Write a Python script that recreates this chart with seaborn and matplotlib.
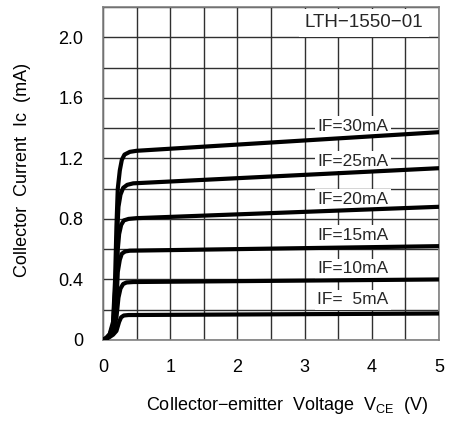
import numpy as np
import pandas as pd
import matplotlib
matplotlib.use("Agg")
import matplotlib.pyplot as plt
import seaborn as sns
from matplotlib.ticker import MultipleLocator, FixedLocator

# ---- data ----
v_30 = [0, 0.05, 0.10, 0.15, 0.18, 0.20, 0.22, 0.25, 0.28, 0.32, 0.40, 0.50, 5.0]
i_30 = [0, 0.015, 0.04, 0.12, 0.40, 0.75, 1.00, 1.12, 1.19, 1.225, 1.243, 1.25, 1.373]

v_25 = [0, 0.05, 0.10, 0.15, 0.19, 0.21, 0.23, 0.26, 0.30, 0.36, 0.45, 5.0]
i_25 = [0, 0.013, 0.035, 0.10, 0.40, 0.70, 0.88, 0.96, 1.005, 1.025, 1.035, 1.135]

v_20 = [0, 0.05, 0.10, 0.15, 0.20, 0.22, 0.24, 0.27, 0.31, 0.38, 0.50, 5.0]
i_20 = [0, 0.012, 0.03, 0.08, 0.35, 0.60, 0.70, 0.76, 0.79, 0.80, 0.805, 0.88]

v_15 = [0, 0.05, 0.10, 0.15, 0.20, 0.22, 0.25, 0.28, 0.33, 0.40, 5.0]
i_15 = [0, 0.01, 0.028, 0.06, 0.25, 0.45, 0.53, 0.57, 0.585, 0.59, 0.62]

v_10 = [0, 0.05, 0.10, 0.15, 0.20, 0.23, 0.26, 0.30, 0.35, 0.45, 5.0]
i_10 = [0, 0.01, 0.025, 0.05, 0.15, 0.28, 0.34, 0.37, 0.38, 0.383, 0.40]

v_5 = [0, 0.05, 0.10, 0.15, 0.20, 0.24, 0.27, 0.31, 0.38, 5.0]
i_5 = [0, 0.008, 0.02, 0.035, 0.06, 0.12, 0.15, 0.162, 0.165, 0.175]

curve_labels = ["IF=30mA", "IF=25mA", "IF=20mA", "IF=15mA", "IF=10mA", "IF=  5mA"]
label_x = [3.72, 3.72, 3.72, 3.72, 3.72, 3.72]
label_y = [1.41, 1.18, 0.93, 0.69, 0.47, 0.265]

x_ticks = [0, 1, 2, 3, 4, 5]
y_ticks = [0, 0.4, 0.8, 1.2, 1.6, 2.0]
y_tick_labels = ["0", "0.4", "0.8", "1.2", "1.6", "2.0"]
model_name = "LTH\u22121550\u221201"

# ---- build table ----
frames = []
for lab, v, i in zip(curve_labels,
                     [v_30, v_25, v_20, v_15, v_10, v_5],
                     [i_30, i_25, i_20, i_15, i_10, i_5]):
    frames.append(pd.DataFrame({"Vce": v, "Ic": i, "IF": lab}))
df = pd.concat(frames, ignore_index=True)

sns.set_theme(style="white")
plt.rcParams["font.family"] = ["Liberation Sans", "DejaVu Sans"]
plt.rcParams["mathtext.fontset"] = "custom"
plt.rcParams["mathtext.rm"] = "Liberation Sans"

fig = plt.figure(figsize=(4.51, 4.21), dpi=100)
ax = fig.add_axes([103 / 451, 1 - 340 / 421, (439 - 103) / 451, (340 - 7) / 421])

sns.lineplot(data=df, x="Vce", y="Ic", hue="IF",
             palette=["black"] * len(curve_labels), estimator=None, sort=False,
             linewidth=3.0, legend=False, ax=ax, zorder=4)

ax.set_xlim(0, 5)
ax.set_ylim(0, 2.2)
ax.xaxis.set_major_locator(FixedLocator(x_ticks))
ax.xaxis.set_minor_locator(MultipleLocator(0.5))
ax.yaxis.set_major_locator(FixedLocator(y_ticks))
ax.yaxis.set_minor_locator(MultipleLocator(0.2))
ax.set_xticklabels([str(t) for t in x_ticks])
ax.set_yticklabels(y_tick_labels)
ax.tick_params(axis="both", which="both", length=0, labelsize=13, colors="black")
ax.tick_params(axis="x", pad=14)
ax.tick_params(axis="y", pad=14)
ax.grid(True, which="both", color="#303030", linewidth=1.0, zorder=1)
ax.set_axisbelow(True)
for s in ax.spines.values():
    s.set_color("#808080")
    s.set_linewidth(1.2)

ax.set_xlabel("Collector\u2212emitter  Voltage  V$_{\\rm CE}$  (V)", fontsize=13,
              color="black")
ax.xaxis.set_label_coords(0.55, -0.165)
ax.set_ylabel("Collector  Current  Ic  (mA)", fontsize=13, color="black")
ax.yaxis.set_label_coords(-0.215, 0.51)

for lab, lx, ly in zip(curve_labels, label_x, label_y):
    ax.text(lx, ly, lab, ha="center", va="center", fontsize=12.5, zorder=3,
            bbox=dict(facecolor="white", edgecolor="none", boxstyle="square,pad=0.15"))

ax.text(3.88, 2.095, model_name, ha="center", va="center", fontsize=13.5, zorder=3,
        bbox=dict(facecolor="white", edgecolor="none", boxstyle="square,pad=0.3"))

fig.savefig("out.png", dpi=100)
